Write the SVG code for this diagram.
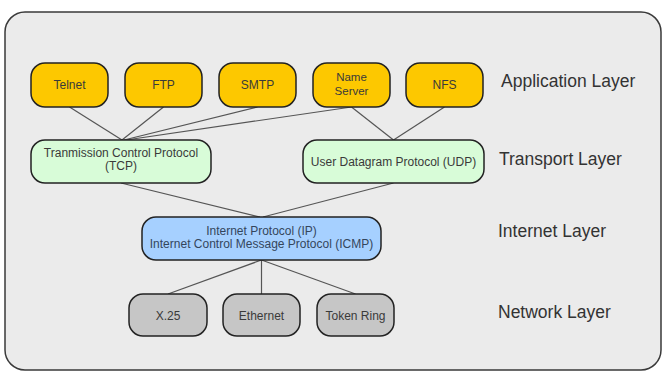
<svg xmlns="http://www.w3.org/2000/svg" width="663" height="372" viewBox="0 0 663 372">
  <style>
    .frame { fill: #ebebeb; stroke: #3a3a3a; stroke-width: 1.5; }
    .node rect { stroke: #222; stroke-width: 1.5; }
    .app rect { fill: #fdc800; }
    .trn rect { fill: #d8fcd8; }
    .inet rect { fill: #a6d0ff; }
    .net rect { fill: #c6c6c6; }
    .node text { font-family: "Liberation Sans", Arial, sans-serif; font-size: 12px; text-anchor: middle; fill: #3a3a3a; }
    .inet text { fill: #34465c; }
    .layer { font-family: "Liberation Sans", Arial, sans-serif; font-size: 17.5px; fill: #333; }
    #connectors line { stroke: #555; stroke-width: 1.2; }
  </style>

  <!-- outer frame -->
  <rect class="frame" x="5" y="12" width="656" height="358" rx="20"/>

  <!-- connectors -->
  <g id="connectors">
    <line x1="69.5" y1="107" x2="122" y2="140"/>
    <line x1="163.5" y1="107" x2="122" y2="140"/>
    <line x1="257.5" y1="107" x2="124" y2="140"/>
    <line x1="351.5" y1="107" x2="126" y2="140"/>
    <line x1="351.5" y1="107" x2="393.5" y2="140"/>
    <line x1="444.5" y1="107" x2="393.5" y2="140"/>
    <line x1="121" y1="183" x2="260" y2="217"/>
    <line x1="393.5" y1="183" x2="263" y2="217"/>
    <line x1="261.5" y1="260" x2="168" y2="294"/>
    <line x1="261.5" y1="260" x2="261.5" y2="294"/>
    <line x1="261.5" y1="260" x2="355.5" y2="294"/>
  </g>

  <!-- application layer -->
  <g id="telnet" class="node app">
    <rect x="31" y="63" width="77" height="44" rx="14"/>
    <text x="69.5" y="89">Telnet</text>
  </g>
  <g id="ftp" class="node app">
    <rect x="125" y="63" width="77" height="44" rx="14"/>
    <text x="163.5" y="89">FTP</text>
  </g>
  <g id="smtp" class="node app">
    <rect x="219" y="63" width="77" height="44" rx="14"/>
    <text x="257.5" y="89">SMTP</text>
  </g>
  <g id="nameserver" class="node app">
    <rect x="313" y="63" width="77" height="44" rx="14"/>
    <text x="351.5" y="81" style="font-size:11.5px">Name</text>
    <text x="351.5" y="95" style="font-size:11.5px">Server</text>
  </g>
  <g id="nfs" class="node app">
    <rect x="406" y="63" width="77" height="44" rx="14"/>
    <text x="444.5" y="89">NFS</text>
  </g>

  <!-- transport layer -->
  <g id="tcp" class="node trn">
    <rect x="31" y="140" width="180" height="43" rx="14"/>
    <text x="121" y="156.5">Tranmission Control Protocol</text>
    <text x="121" y="170">(TCP)</text>
  </g>
  <g id="udp" class="node trn">
    <rect x="303" y="140" width="181" height="43" rx="14"/>
    <text x="393.5" y="166">User Datagram Protocol (UDP)</text>
  </g>

  <!-- internet layer -->
  <g id="ip" class="node inet">
    <rect x="142" y="217" width="239" height="43" rx="14"/>
    <text x="261.5" y="234.5">Internet Protocol (IP)</text>
    <text x="261.5" y="248">Internet Control Message Protocol (ICMP)</text>
  </g>

  <!-- network layer -->
  <g id="x25" class="node net">
    <rect x="129" y="294" width="78" height="42" rx="14"/>
    <text x="168" y="319.5">X.25</text>
  </g>
  <g id="ethernet" class="node net">
    <rect x="223" y="294" width="77" height="42" rx="14"/>
    <text x="261.5" y="319.5">Ethernet</text>
  </g>
  <g id="tokenring" class="node net">
    <rect x="317" y="294" width="77" height="42" rx="14"/>
    <text x="355.5" y="319.5">Token Ring</text>
  </g>

  <!-- layer captions -->
  <text class="layer" x="501" y="87">Application Layer</text>
  <text class="layer" x="499" y="165">Transport Layer</text>
  <text class="layer" x="498" y="237">Internet Layer</text>
  <text class="layer" x="498" y="318">Network Layer</text>
</svg>
